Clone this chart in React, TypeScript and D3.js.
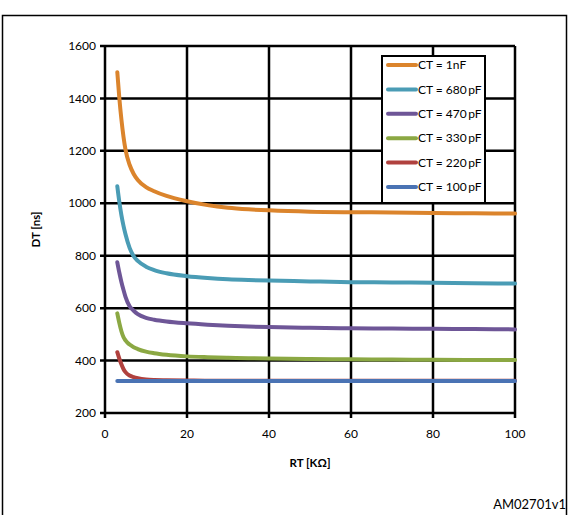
import React from "react";
import * as d3 from "d3";

const rt = [3, 3.5, 4, 4.5, 5, 6, 7, 8, 10, 12, 15, 20, 25, 30, 35, 40, 50, 60, 70, 80, 90, 100];
const ct1nF = [1500, 1400, 1320, 1255, 1205, 1147, 1112, 1089, 1062, 1046, 1028, 1008, 993, 983, 977, 973, 968, 966, 965, 963, 962, 961];
const ct680 = [1065, 1005, 955, 915, 882, 830, 798, 780, 758, 745, 733, 722, 715, 710, 707, 705, 702, 699, 698, 697, 695, 694];
const ct470 = [775, 735, 700, 670, 643, 607, 590, 577, 563, 556, 549, 542, 537, 533, 530, 528, 525, 523, 522, 521, 520, 519];
const ct330 = [580, 543, 512, 490, 477, 461, 451, 444, 434, 428, 422, 416, 413, 411, 409, 408, 406, 405, 404, 403, 402, 402];
const ct220 = [432, 407, 386, 368, 356, 343, 337, 333, 328, 326, 325, 324, 323, 323, 323, 323, 323, 323, 323, 323, 323, 323];
const ct100 = [322, 322, 322, 322, 322, 322, 322, 322, 322, 322, 322, 322, 322, 322, 322, 322, 322, 322, 322, 322, 322, 322];

const seriesNames = ["CT = 1nF", "CT = 680\u2009pF", "CT = 470\u2009pF", "CT = 330\u2009pF", "CT = 220\u2009pF", "CT = 100\u2009pF"];
const seriesValues = [ct1nF, ct680, ct470, ct330, ct220, ct100];
const seriesColors = ["#DB842C", "#4A9CB5", "#6E5697", "#8BA843", "#B0413E", "#4A73B4"];

const xTicks = [0, 20, 40, 60, 80, 100];
const yTicks = [200, 400, 600, 800, 1000, 1200, 1400, 1600];

export default function App() {
  const W = 571, H = 515;
  const left = 105, right = 515, top = 46, bottom = 413;
  const x = d3.scaleLinear().domain([0, 100]).range([left, right]);
  const y = d3.scaleLinear().domain([200, 1600]).range([bottom, top]);
  const font = "Lato, 'Open Sans', sans-serif";

  const lines = seriesValues.map((vals) =>
    d3.line<number>().x((_, i) => x(rt[i])).y((v) => y(v)).curve(d3.curveMonotoneX)(vals) || ""
  );

  const legX = 382, legY = 56, legW = 103, legH = 147;

  return (
    <svg width={W} height={H} style={{ position: "absolute", left: 0, top: 0, background: "#fff" }} fontFamily={font}>
      <rect x={0} y={0} width={W} height={H} fill="#fff" />
      <path d={`M2.5,${H + 5}V15.5H566.5V${H + 5}`} fill="none" stroke="#000" strokeWidth={1.5} />
      {yTicks.map((t) => (
        <line key={"gy" + t} x1={left - 5} x2={right} y1={y(t)} y2={y(t)} stroke="#000" strokeWidth={2.5} />
      ))}
      {xTicks.map((t) => (
        <line key={"gx" + t} x1={x(t)} x2={x(t)} y1={top} y2={bottom + 5} stroke="#000" strokeWidth={2.5} />
      ))}
      {yTicks.map((t) => (
        <text key={"ly" + t} x={left - 9} y={y(t)} dy="0.35em" textAnchor="end" fontSize={12} fill="#000">{t}</text>
      ))}
      {xTicks.map((t) => (
        <text key={"lx" + t} x={x(t)} y={bottom + 25} textAnchor="middle" fontSize={12} fill="#000">{t}</text>
      ))}
      <text x={310} y={467} textAnchor="middle" fontSize={11.5} fontWeight="bold">RT [KΩ]</text>
      <text transform={`translate(40,${(top + bottom) / 2}) rotate(-90)`} textAnchor="middle" fontSize={11.5} fontWeight="bold">DT [ns]</text>
      {lines.map((d, i) => (
        <path key={"s" + i} d={d} fill="none" stroke={seriesColors[i]} strokeWidth={4} strokeLinecap="round" strokeLinejoin="round" />
      ))}
      <rect x={legX} y={legY} width={legW} height={legH} fill="#fff" stroke="#000" strokeWidth={2} />
      {seriesNames.map((n, i) => {
        const cy = 65 + i * 24.4;
        return (
          <g key={"lg" + i}>
            <line x1={388} x2={416} y1={cy} y2={cy} stroke={seriesColors[i]} strokeWidth={4} strokeLinecap="round" />
            <text x={418} y={cy} dy="0.35em" fontSize={12} fill="#000">{n}</text>
          </g>
        );
      })}
      <text x={566} y={509} textAnchor="end" fontSize={13} fill="#000">AM02701v1</text>
    </svg>
  );
}
